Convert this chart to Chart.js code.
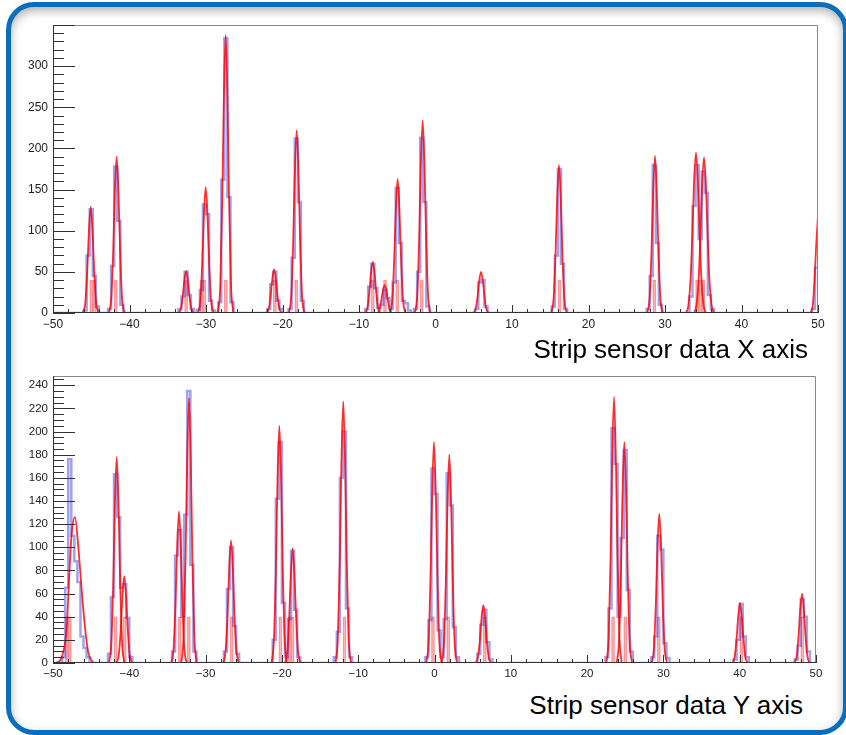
<!DOCTYPE html>
<html>
<head>
<meta charset="utf-8">
<script src="https://cdn.jsdelivr.net/npm/chart.js@4.4.1/dist/chart.umd.min.js"></script>
<style>
  html, body { margin: 0; padding: 0; background: #fff; }
  body { width: 846px; height: 735px; position: relative; overflow: hidden; font-family: "Liberation Sans", Arial, sans-serif; }
  .panel { position: absolute; left: 6px; top: 2px; width: 842px; height: 733px; box-sizing: border-box;
           border: 5px solid #0a6ebd; border-radius: 28px; box-shadow: inset 0 4px 10px rgba(0,0,0,0.3); }
  canvas { position: absolute; left: 0; }
  #topChart { top: 0; }
  #bottomChart { top: 360px; }
  .caption { position: absolute; font-size: 26px; line-height: 26px; color: #000; white-space: nowrap; }
</style>
</head>
<body>
<div class="panel"></div>
<canvas id="topChart" width="846" height="335"></canvas>
<canvas id="bottomChart" width="846" height="325"></canvas>
<div class="caption" style="right:38px; top:336px">Strip sensor data X axis</div>
<div class="caption" style="right:43px; top:692px">Strip sensor data Y axis</div>
<script>
const binWidth = 0.4;
const xRange = [-50, 50];
const truthLevel = 40;

// X strips: left edge of first bin of each hit cluster, then the bin counts
const topClusterStart = [-46.0, -42.8, -33.6, -31.2, -28.4, -22.0, -19.2, -9.2, -2.8, 5.2, 15.2, 27.6, 33.2, 49.2];
const topClusterCounts = [
  [3, 70, 126, 45, 8],
  [5, 57, 178, 112, 10],
  [5, 20, 50, 22, 5],
  [4, 28, 132, 120, 15, 3],
  [13, 162, 334, 141, 13],
  [5, 35, 50, 15, 5],
  [5, 67, 212, 135, 15],
  [5, 32, 60, 30, 6, 10, 28, 18, 5, 37, 152, 85, 15, 12, 3],
  [5, 50, 213, 135, 8],
  [5, 37, 40, 8],
  [8, 70, 175, 60, 5],
  [5, 45, 180, 85, 10],
  [20, 130, 180, 90, 172, 146, 22, 5],
  [5, 55]
];
// true strip positions (left bin edges)
const topTruthBins = [-45.2, -44.8, -42.0, -32.8, -30.8, -30.4, -27.6, -21.2, -18.4, -8.4, -6.8, -5.2, -2.0, 16.0, 28.4, 34.0, 34.4, 34.8];
// fitted peaks
const topFits = [
  [[-46.07,0],[-45.77,13],[-45.52,52],[-45.32,97],[-45.07,129],[-44.82,97],[-44.62,52],[-44.37,13],[-44.07,0]],
  [[-42.68,0],[-42.38,19],[-42.13,76],[-41.93,143],[-41.68,190],[-41.43,143],[-41.23,76],[-40.98,19],[-40.68,0]],
  [[-33.6,0],[-33.3,5],[-33.05,20],[-32.85,38],[-32.6,51],[-32.35,38],[-32.15,20],[-31.9,5],[-31.6,0]],
  [[-31.04,0],[-30.74,15],[-30.49,61],[-30.29,115],[-30.04,153],[-29.79,115],[-29.59,61],[-29.34,15],[-29.04,0]],
  [[-28.43,0],[-28.13,34],[-27.88,135],[-27.68,254],[-27.43,338],[-27.18,254],[-26.98,135],[-26.73,34],[-26.43,0]],
  [[-22.1,0],[-21.8,5],[-21.55,21],[-21.35,40],[-21.1,53],[-20.85,40],[-20.65,21],[-20.4,5],[-20.1,0]],
  [[-19.15,0],[-18.85,22],[-18.6,89],[-18.4,167],[-18.15,222],[-17.9,167],[-17.7,89],[-17.45,22],[-17.15,0]],
  [[-9.2,0],[-8.9,6],[-8.65,25],[-8.45,47],[-8.2,62],[-7.95,47],[-7.75,25],[-7.5,6],[-7.2,0]],
  [[-7.65,0],[-7.35,3],[-7.1,14],[-6.9,26],[-6.65,34],[-6.4,26],[-6.2,14],[-5.95,3],[-5.65,0]],
  [[-5.95,0],[-5.65,16],[-5.4,65],[-5.2,122],[-4.95,163],[-4.7,122],[-4.5,65],[-4.25,16],[-3.95,0]],
  [[-2.68,0],[-2.38,23],[-2.13,94],[-1.93,176],[-1.68,234],[-1.43,176],[-1.23,94],[-0.98,23],[-0.68,0]],
  [[4.95,0],[5.25,5],[5.5,20],[5.7,38],[5.95,50],[6.2,38],[6.4,20],[6.65,5],[6.95,0]],
  [[15.14,0],[15.44,18],[15.69,72],[15.89,135],[16.14,180],[16.39,135],[16.59,72],[16.84,18],[17.14,0]],
  [[27.69,0],[27.99,19],[28.24,76],[28.44,143],[28.69,191],[28.94,143],[29.14,76],[29.39,19],[29.69,0]],
  [[32.75,0],[33.05,9],[33.35,43],[33.6,103],[33.8,160],[34.05,195],[34.3,160],[34.5,103],[34.75,43],[35.05,9],[35.35,0]],
  [[33.8,0],[34.1,9],[34.4,42],[34.65,100],[34.85,155],[35.1,189],[35.35,155],[35.55,100],[35.8,42],[36.1,9],[36.4,0]],
  [[49.0,0],[49.3,8],[49.55,40],[49.75,80],[50.0,118]],
  [[-50,0],[50,0]]
];

// Y strips
const bottomClusterStart = [-48.8, -42.8, -34.4, -27.6, -21.2, -13.2, -1.2, 5.6, 22.4, 28.4, 39.2, 47.2];
const bottomClusterCounts = [
  [5, 65, 176, 110, 88, 70, 23, 13, 5],
  [8, 57, 163, 126, 65, 68, 39, 5],
  [10, 93, 115, 40, 128, 235, 85, 10],
  [10, 64, 100, 32, 8],
  [20, 142, 191, 52, 5, 38, 97, 46, 5],
  [5, 27, 160, 200, 47, 5],
  [5, 37, 168, 146, 28, 5, 38, 164, 136, 31, 5],
  [8, 33, 46, 18, 3],
  [5, 47, 203, 172, 40, 108, 184, 63, 10],
  [5, 23, 110, 98, 17, 4],
  [3, 20, 51, 23, 5],
  [3, 15, 55, 40, 10]
];
const bottomTruthBins = [-48.4, -48.0, -42.0, -40.8, -33.6, -32.4, -26.8, -20.4, -19.2, -18.8, -12.0, -0.4, 1.6, 6.4, 23.2, 24.8, 29.2, 40.0, 48.0];
const bottomFits = [
  [[-49.6,0],[-48.86,5],[-48.2,31],[-47.9,72],[-47.55,112],[-47.12,126],[-46.68,100],[-46.24,63],[-45.81,31],[-45.37,9],[-44.7,0]],
  [[-42.65,0],[-42.35,18],[-42.1,71],[-41.9,134],[-41.65,178],[-41.4,134],[-41.2,71],[-40.95,18],[-40.65,0]],
  [[-41.66,0],[-41.36,8],[-41.11,30],[-40.91,56],[-40.66,75],[-40.41,56],[-40.21,30],[-39.96,8],[-39.66,0]],
  [[-34.49,0],[-34.19,13],[-33.94,52],[-33.74,98],[-33.49,131],[-33.24,98],[-33.04,52],[-32.79,13],[-32.49,0]],
  [[-33.18,0],[-32.88,23],[-32.63,90],[-32.43,172],[-32.18,229],[-31.93,172],[-31.73,90],[-31.48,23],[-31.18,0]],
  [[-27.67,0],[-27.37,11],[-27.12,42],[-26.92,80],[-26.67,106],[-26.42,80],[-26.22,42],[-25.97,11],[-25.67,0]],
  [[-21.34,0],[-21.04,21],[-20.79,82],[-20.59,154],[-20.34,205],[-20.09,154],[-19.89,82],[-19.64,21],[-19.34,0]],
  [[-19.59,0],[-19.29,10],[-19.04,40],[-18.84,74],[-18.59,99],[-18.34,74],[-18.14,40],[-17.89,10],[-17.59,0]],
  [[-12.96,0],[-12.66,23],[-12.41,90],[-12.21,170],[-11.96,226],[-11.71,170],[-11.51,90],[-11.26,23],[-10.96,0]],
  [[-1.07,0],[-0.77,19],[-0.52,76],[-0.32,143],[-0.07,191],[0.18,143],[0.38,76],[0.63,19],[0.93,0]],
  [[0.94,0],[1.24,18],[1.49,72],[1.69,135],[1.94,180],[2.19,135],[2.39,72],[2.64,18],[2.94,0]],
  [[5.4,0],[5.7,5],[5.95,20],[6.15,38],[6.4,50],[6.65,38],[6.85,20],[7.1,5],[7.4,0]],
  [[22.53,0],[22.83,23],[23.08,92],[23.28,173],[23.53,230],[23.78,173],[23.98,92],[24.23,23],[24.53,0]],
  [[23.88,0],[24.18,19],[24.43,76],[24.63,143],[24.88,191],[25.13,143],[25.33,76],[25.58,19],[25.88,0]],
  [[28.46,0],[28.76,13],[29.01,52],[29.21,97],[29.46,129],[29.71,97],[29.91,52],[30.16,13],[30.46,0]],
  [[39.04,0],[39.34,5],[39.59,21],[39.79,39],[40.04,52],[40.29,39],[40.49,21],[40.74,5],[41.04,0]],
  [[47.17,0],[47.47,6],[47.72,24],[47.92,45],[48.17,60],[48.42,45],[48.62,24],[48.87,6],[49.17,0]],
  [[-50,0],[50,0]]
];

Chart.defaults.font.family = "'Liberation Sans', Arial, sans-serif";

// full histogram as step points at every bin edge
function histogramPoints(starts, counts) {
  const nBins = Math.round((xRange[1] - xRange[0]) / binWidth);
  const bins = new Array(nBins).fill(0);
  starts.forEach((s, i) => {
    const first = Math.round((s - xRange[0]) / binWidth);
    counts[i].forEach((c, j) => { bins[first + j] = c; });
  });
  const pts = bins.map((c, k) => ({ x: xRange[0] + k * binWidth, y: c }));
  pts.push({ x: xRange[1], y: bins[nBins - 1] });
  return pts;
}

const minusLabel = v => (v < 0 ? '\u2212' + Math.abs(v) : String(v));

// ROOT style frame with inward major/minor ticks
const rootFrame = {
  id: 'rootFrame',
  afterDraw(chart, args, o) {
    const { ctx, chartArea: a, scales: { x, y } } = chart;
    ctx.save();
    ctx.lineWidth = 1;
    ctx.strokeStyle = '#888';
    ctx.beginPath();
    ctx.moveTo(a.left, a.top + 0.5); ctx.lineTo(a.right - 0.5, a.top + 0.5); ctx.lineTo(a.right - 0.5, a.bottom);
    ctx.stroke();
    ctx.strokeStyle = '#333';
    ctx.beginPath();
    ctx.moveTo(a.left + 0.5, a.top); ctx.lineTo(a.left + 0.5, a.bottom - 0.5); ctx.lineTo(a.right, a.bottom - 0.5);
    for (let k = 0; xRange[0] + k * o.xMinor <= xRange[1]; k++) {
      const v = xRange[0] + k * o.xMinor;
      const px = Math.round(x.getPixelForValue(v)) + 0.5;
      const len = v % o.xMajor === 0 ? 8 : 4;
      ctx.moveTo(px, a.bottom); ctx.lineTo(px, a.bottom - len);
    }
    for (let k = 0; k * o.yMinor <= y.max; k++) {
      const v = k * o.yMinor;
      const py = Math.round(y.getPixelForValue(v)) + 0.5;
      const len = v % o.yMajor === 0 ? 22 : 11;
      ctx.moveTo(a.left, py); ctx.lineTo(a.left + len, py);
    }
    ctx.stroke();
    ctx.restore();
  }
};

function drawStripPlot(id, cfg) {
  const datasets = [
    {
      type: 'bar',
      data: cfg.truth.map(e => ({ x: e + binWidth / 2, y: truthLevel })),
      backgroundColor: 'rgba(255,140,140,0.22)',
      borderColor: 'rgba(255,80,80,0.6)',
      borderWidth: 1,
      barPercentage: 1,
      categoryPercentage: 1,
      order: 3
    },
    {
      type: 'line',
      data: histogramPoints(cfg.starts, cfg.counts),
      stepped: true,
      borderColor: 'rgba(30,30,225,0.42)',
      borderWidth: 2.5,
      pointRadius: 0,
      order: 2
    }
  ];
  cfg.fits.forEach(f => {
    datasets.push({
      type: 'line',
      data: f.map(p => ({ x: p[0], y: p[1] })),
      borderColor: 'rgba(255,0,0,0.82)',
      borderWidth: 1.8,
      pointRadius: 0,
      cubicInterpolationMode: 'monotone',
      order: 1
    });
  });

  new Chart(document.getElementById(id), {
    type: 'line',
    data: { datasets },
    plugins: [rootFrame],
    options: {
      responsive: false,
      animation: false,
      devicePixelRatio: 1,
      events: [],
      layout: { padding: { top: cfg.padTop, right: cfg.padRight, left: 0, bottom: 0 } },
      plugins: {
        legend: { display: false },
        tooltip: { enabled: false },
        rootFrame: { xMinor: 2, xMajor: 10, yMinor: cfg.yMinor, yMajor: cfg.yStep }
      },
      scales: {
        x: {
          type: 'linear',
          min: xRange[0],
          max: xRange[1],
          offset: false,
          grid: { display: false, drawTicks: false, offset: false },
          border: { display: false },
          ticks: { stepSize: 10, padding: 4, maxRotation: 0, autoSkip: false, color: '#222',
                   font: { size: cfg.fontSize }, callback: minusLabel },
          afterFit: s => { s.height = 22; }
        },
        y: {
          min: 0,
          max: cfg.yMax,
          grid: { display: false, drawTicks: false },
          border: { display: false },
          ticks: { stepSize: cfg.yStep, includeBounds: false, padding: 5, color: '#222',
                   font: { size: cfg.fontSize } },
          // the frame top is not labelled
          afterBuildTicks: s => { s.ticks = s.ticks.filter(t => t.value <= cfg.yLabelMax); },
          afterFit: s => { s.width = 53; }
        }
      }
    }
  });
}

drawStripPlot('topChart', {
  starts: topClusterStart, counts: topClusterCounts, truth: topTruthBins, fits: topFits,
  yMax: 350, yLabelMax: 300, yStep: 50, yMinor: 10, padTop: 25, padRight: 28, fontSize: 12
});
drawStripPlot('bottomChart', {
  starts: bottomClusterStart, counts: bottomClusterCounts, truth: bottomTruthBins, fits: bottomFits,
  yMax: 248, yLabelMax: 240, yStep: 20, yMinor: 5, padTop: 16, padRight: 30, fontSize: 11.5
});
</script>
</body>
</html>
